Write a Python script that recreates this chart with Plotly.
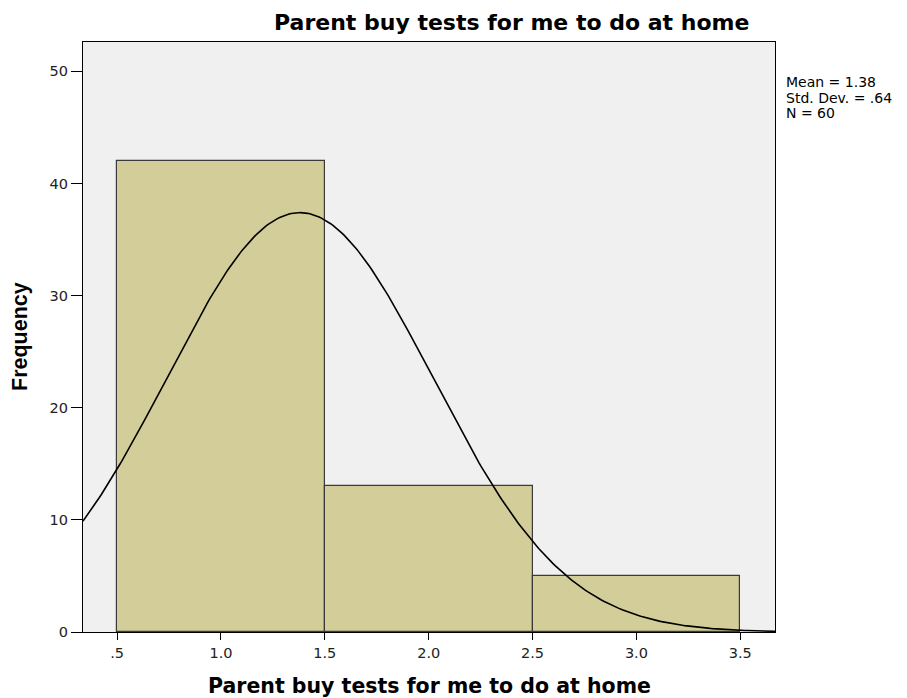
import numpy as np
import plotly.graph_objects as go

# histogram data
bin_centers = [1.0, 2.0, 3.0]
frequencies = [42, 13, 5]
bin_width = 1.0

# summary statistics shown beside the chart
mean_val = 1.38
std_val = 0.64
n_val = 60
stats_lines = ["Mean = 1.38", "Std. Dev. = .64", "N = 60"]

x_tickvals = [0.5, 1.0, 1.5, 2.0, 2.5, 3.0, 3.5]
x_ticktext = [".5", "1.0", "1.5", "2.0", "2.5", "3.0", "3.5"]
y_tickvals = [0, 10, 20, 30, 40, 50]

title_text = "Parent buy tests for me to do at home"

colors = {"bar": "#D3CE99", "bar_line": "#3a3a3a", "plot_bg": "#F0F0F0", "curve": "#000000"}

# page body has an 8px margin, so figure coords = page coords - 8
OFF = 8
W, H = 907, 698
L, T, R, B = 83 - OFF, 42 - OFF, 775 - OFF, 632 - OFF

def px_x(px):
    return (px - OFF - L) / (R - L)

def px_y(py):
    return (B - (py - OFF)) / (B - T)

# fitted normal curve (SPSS style): N * binwidth * pdf
x_min, x_max = 0.336, 3.667
xs = np.linspace(x_min, x_max, 300)
ys = n_val * bin_width / (std_val * np.sqrt(2 * np.pi)) * np.exp(-0.5 * ((xs - mean_val) / std_val) ** 2)

fig = go.Figure()
fig.add_trace(go.Bar(
    x=bin_centers, y=frequencies, width=bin_width,
    marker=dict(color=colors["bar"], line=dict(color=colors["bar_line"], width=1.2)),
    showlegend=False, hoverinfo="x+y",
))
fig.add_trace(go.Scatter(
    x=xs, y=ys, mode="lines", line=dict(color=colors["curve"], width=1.6),
    showlegend=False, hoverinfo="skip",
))

annotations = [
    # chart title
    dict(text="<b>" + title_text + "</b>", xref="paper", yref="paper",
         x=px_x(511), y=px_y(23), xanchor="center", yanchor="middle",
         showarrow=False, font=dict(family="DejaVu Sans", size=22)),
    # x axis title
    dict(text="<b>" + title_text + "</b>", xref="paper", yref="paper",
         x=px_x(429), y=px_y(686), xanchor="center", yanchor="middle",
         showarrow=False, font=dict(family="DejaVu Sans", size=20.5)),
    # y axis title
    dict(text="<b>Frequency</b>", xref="paper", yref="paper",
         x=px_x(20), y=px_y(337), xanchor="center", yanchor="middle", textangle=-90,
         showarrow=False, font=dict(family="Liberation Sans, Arial", size=21.5)),
]
for i, line in enumerate(stats_lines):
    annotations.append(dict(
        text=line, xref="paper", yref="paper",
        x=px_x(784), y=px_y(82 + 15.5 * i), xanchor="left", yanchor="middle",
        showarrow=False, font=dict(family="DejaVu Sans", size=14),
    ))

fig.update_layout(
    width=W, height=H,
    margin=dict(l=L, r=W - R, t=T, b=H - B, autoexpand=False),
    plot_bgcolor=colors["plot_bg"], paper_bgcolor="white",
    font=dict(family="DejaVu Sans, sans-serif", color="#000000"),
    bargap=0,
    annotations=annotations,
)
fig.update_xaxes(
    range=[x_min, x_max], tickvals=x_tickvals, ticktext=x_ticktext,
    ticks="outside", ticklen=7, tickcolor="#000", tickwidth=1.3,
    showline=True, linecolor="#000", linewidth=1.3, mirror=True,
    showgrid=False, zeroline=False, tickfont=dict(size=14.5, color="#222"),
    automargin=False,
)
fig.update_yaxes(
    range=[0, 52.62], tickvals=y_tickvals,
    ticks="outside", ticklen=11, tickcolor="#000", tickwidth=1.3,
    showline=True, linecolor="#000", linewidth=1.3, mirror=True,
    showgrid=False, zeroline=False, tickfont=dict(size=14.5, color="#222"),
    automargin=False,
)

fig.write_html("out.html")
